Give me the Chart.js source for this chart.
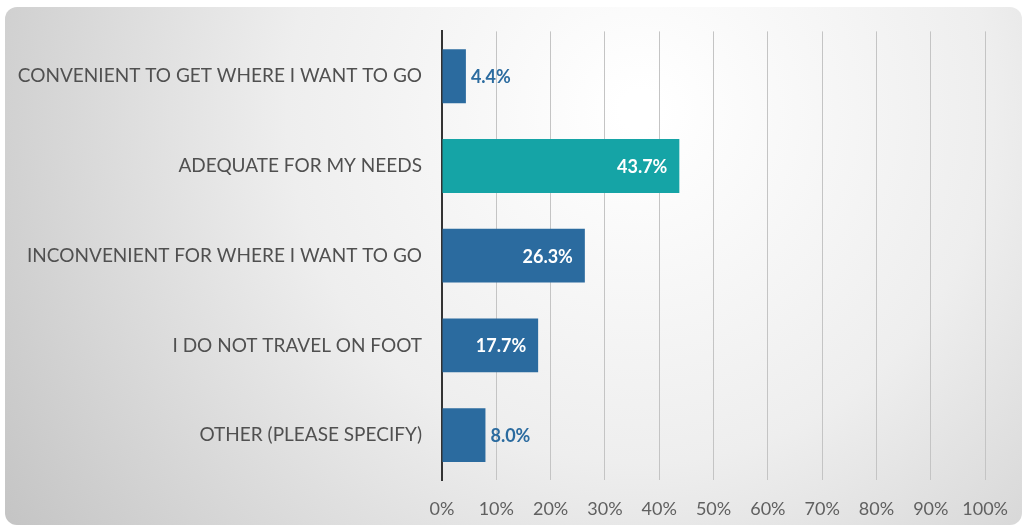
<!DOCTYPE html>
<html>
<head>
<meta charset="utf-8">
<script src="https://cdn.jsdelivr.net/npm/chart.js@4/dist/chart.umd.min.js"></script>
<style>
  html, body { margin:0; padding:0; background:#fff; }
  #wrap { width:1026px; height:529px; }
</style>
</head>
<body>
<div id="wrap"><canvas id="c" width="1026" height="529"></canvas></div>
<script>
"use strict";

const CATEGORIES = [
  'CONVENIENT TO GET WHERE I WANT TO GO',
  'ADEQUATE FOR MY NEEDS',
  'INCONVENIENT FOR WHERE I WANT TO GO',
  'I DO NOT TRAVEL ON FOOT',
  'OTHER (PLEASE SPECIFY)',
];
const VALUES = [4.4, 43.7, 26.3, 17.7, 8.0];
const HIGHLIGHT = 1;            // index of the teal bar
const X_TICKS = [0, 10, 20, 30, 40, 50, 60, 70, 80, 90, 100];

const C = {blue:'#2b6b9f', teal:'#15a4a6', label:'#505050', tick:'#606060', grid:'#c4c4c4', axis:'#333'};
const FONT = "Lato, 'Open Sans', sans-serif";

// rounded panel with soft radial gradient behind everything
const panelBg = {
  id:'panelBg',
  beforeDraw(chart) {
    const ctx = chart.ctx, x = 5, y = 7, w = 1017, h = 518, r = 12;
    ctx.save();
    const g = ctx.createRadialGradient(640, 110, 20, 640, 110, 760);
    g.addColorStop(0, '#ffffff');
    g.addColorStop(0.45, '#eeeeee');
    g.addColorStop(1, '#c4c4c4');
    ctx.beginPath();
    ctx.roundRect(x, y, w, h, r);
    ctx.fillStyle = g;
    ctx.fill();
    ctx.restore();
  }
};

// value labels: white inside the long bars, blue just past the short ones
const valueLabels = {
  id:'valueLabels',
  afterDatasetsDraw(chart) {
    const ctx = chart.ctx;
    const meta = chart.getDatasetMeta(0);
    ctx.save();
    ctx.font = "bold 18px " + FONT;
    ctx.textBaseline = 'middle';
    meta.data.forEach((bar, i) => {
      const txt = VALUES[i].toFixed(1) + '%';
      const w = ctx.measureText(txt).width;
      const len = bar.x - bar.base;
      if (len > w + 24) {
        ctx.fillStyle = '#fff';
        ctx.textAlign = 'right';
        ctx.fillText(txt, bar.x - 12, bar.y + 1);
      } else {
        ctx.fillStyle = C.blue;
        ctx.textAlign = 'left';
        ctx.fillText(txt, bar.x + 5, bar.y + 1);
      }
    });
    ctx.restore();
  }
};

new Chart(document.getElementById('c'), {
  type:'bar',
  data:{
    labels: CATEGORIES,
    datasets:[{
      data: VALUES,
      backgroundColor: VALUES.map((v, i) => i === HIGHLIGHT ? C.teal : C.blue),
      categoryPercentage: 0.6,
      barPercentage: 1.0,
    }]
  },
  options:{
    indexAxis:'y',
    responsive:false,
    animation:false,
    layout:{padding:{left:8, right:35, top:28, bottom:0}},
    plugins:{legend:{display:false}, tooltip:{enabled:false}},
    scales:{
      x:{
        min:0, max:100,
        afterBuildTicks: s => { s.ticks = X_TICKS.map(v => ({value:v})); },
        afterFit: s => { s.height = 49; },
        grid:{color:C.grid, lineWidth:1, drawTicks:false},
        border:{display:false},
        ticks:{color:C.tick, font:{family:FONT, size:18}, padding:18, maxRotation:0,
               callback: v => v + '%'},
      },
      y:{
        grid:{display:false, drawTicks:false},
        border:{display:true, color:C.axis, width:2},
        afterFit: s => { s.width = 434; },
        ticks:{color:C.label, font:{family:FONT, size:19}, padding:20},
      }
    }
  },
  plugins:[panelBg, valueLabels]
});
</script>
</body>
</html>
